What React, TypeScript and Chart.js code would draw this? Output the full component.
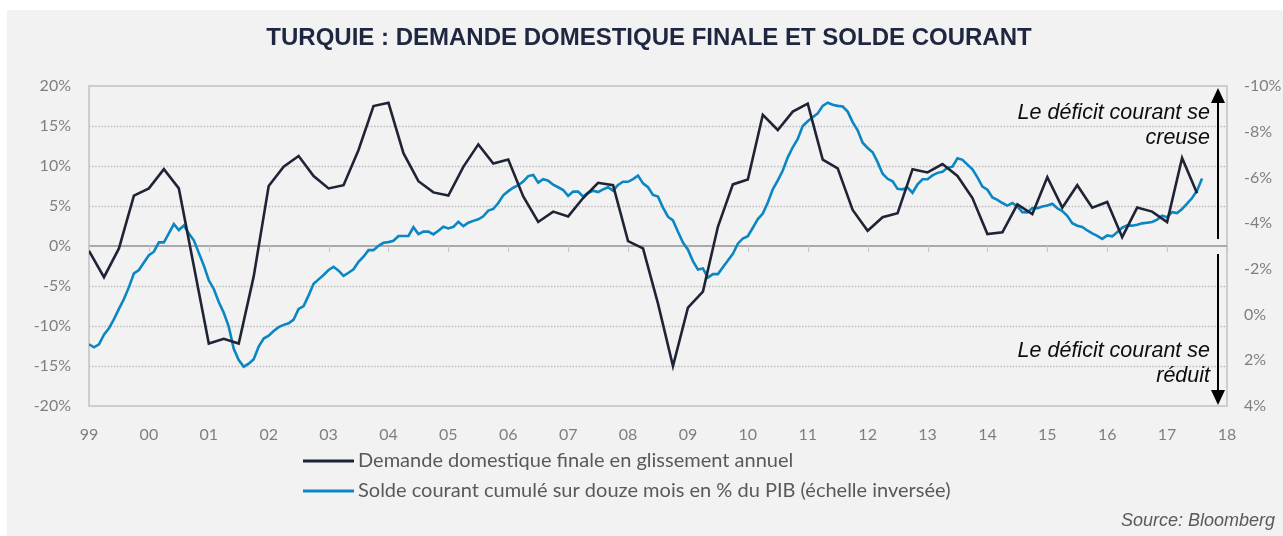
import { useEffect, useRef } from 'react';
import { Chart, registerables } from 'chart.js';

Chart.register(...registerables);

const TITLE = 'TURQUIE : DEMANDE DOMESTIQUE FINALE ET SOLDE COURANT';
const LEGEND_DEMANDE = 'Demande domestique finale en glissement annuel';
const LEGEND_SOLDE = 'Solde courant cumulé sur douze mois en % du PIB (échelle inversée)';
const SOURCE = 'Source: Bloomberg';
const NOTE_UP = ['Le déficit courant se', 'creuse'];
const NOTE_DOWN = ['Le déficit courant se', 'réduit'];

const yearTicks = ['99', '00', '01', '02', '03', '04', '05', '06', '07', '08', '09', '10', '11', '12', '13', '14', '15', '16', '17', '18'];
const firstYear = 1999;
const lastYear = 2018;

// Demande domestique finale, % a/a, trimestriel à partir de 1999 T1
const demande = [
  -0.6, -3.9, -0.3, 6.3,
  7.2, 9.6, 7.2, -2.5,
  -12.2, -11.6, -12.2, -3.8,
  7.5, 9.9, 11.25, 8.75,
  7.2, 7.6, 12.0, 17.5,
  17.9, 11.6, 8.1, 6.7,
  6.3, 9.9, 12.7, 10.3,
  10.8, 6.2, 3.0, 4.3,
  3.7, 6.0, 7.9, 7.6,
  0.6, -0.3, -7.2, -15.0,
  -7.7, -5.7, 2.4, 7.7,
  8.3, 16.4, 14.5, 16.8,
  17.8, 10.8, 9.7, 4.5,
  1.9, 3.6, 4.1, 9.6,
  9.2, 10.25, 8.75, 6.0,
  1.5, 1.7, 5.2, 4.0,
  8.6, 4.8, 7.6, 4.8,
  5.5, 1.1, 4.8, 4.3,
  3.0, 11.0, 6.6,
];

// Solde courant cumulé 12 mois, % du PIB, mensuel à partir de janvier 1999
const solde = [
  1.30, 1.43, 1.30, 0.88, 0.60, 0.20, -0.25, -0.68, -1.20, -1.80, -1.95, -2.28,
  -2.60, -2.75, -3.16, -3.16, -3.55, -3.96, -3.70, -3.90, -3.55, -3.25, -2.70, -2.15,
  -1.50, -1.12, -0.55, -0.08, 0.53, 1.50, 1.99, 2.28, 2.15, 1.95, 1.40, 1.05,
  0.92, 0.72, 0.55, 0.45, 0.38, 0.22, -0.25, -0.37, -0.84, -1.35, -1.54, -1.73,
  -1.95, -2.09, -1.92, -1.69, -1.83, -1.98, -2.31, -2.53, -2.82, -2.82, -3.01, -3.14,
  -3.17, -3.23, -3.44, -3.44, -3.44, -3.82, -3.52, -3.63, -3.63, -3.51, -3.67, -3.84,
  -3.77, -3.84, -4.06, -3.87, -4.02, -4.10, -4.17, -4.30, -4.55, -4.62, -4.88, -5.22,
  -5.40, -5.55, -5.66, -5.82, -6.06, -6.11, -5.77, -5.92, -5.86, -5.68, -5.57, -5.45,
  -5.19, -5.38, -5.38, -5.16, -5.33, -5.42, -5.36, -5.48, -5.57, -5.42, -5.67, -5.81,
  -5.81, -5.93, -6.08, -5.74, -5.57, -5.23, -5.16, -4.68, -4.28, -4.12, -3.62, -3.15,
  -2.84, -2.34, -1.97, -2.02, -1.62, -1.77, -1.77, -2.07, -2.37, -2.66, -3.10, -3.33,
  -3.43, -3.80, -4.18, -4.42, -4.90, -5.48, -5.87, -6.30, -6.88, -7.32, -7.68, -8.25,
  -8.46, -8.64, -8.80, -9.13, -9.27, -9.18, -9.13, -9.10, -8.88, -8.42, -8.06, -7.52,
  -7.29, -7.10, -6.67, -6.16, -5.94, -5.83, -5.50, -5.48, -5.56, -5.33, -5.70, -5.92,
  -5.92, -6.09, -6.20, -6.25, -6.42, -6.47, -6.84, -6.77, -6.56, -6.35, -6.00, -5.60,
  -5.46, -5.12, -5.02, -4.88, -4.77, -4.88, -4.73, -4.48, -4.47, -4.66, -4.65, -4.73,
  -4.77, -4.85, -4.65, -4.53, -4.32, -4.00, -3.89, -3.83, -3.68, -3.55, -3.44, -3.31,
  -3.46, -3.42, -3.60, -3.80, -3.90, -3.89, -3.93, -3.99, -4.02, -4.05, -4.15, -4.33,
  -4.26, -4.48, -4.44, -4.62, -4.85, -5.10, -5.42, -5.95,
];

const leftTicksMin = -20;
const leftTicksMax = 20;
const leftStep = 5;
const rightTicksMin = -10;
const rightTicksMax = 4;
const rightStep = 2;

const COLOR_DEMANDE = '#1f2336';
const COLOR_SOLDE = '#0a87c2';
const TICK_COLOR = '#7f7f7f';
const TICK_FONT = 'Lato';

const customPlugin = {
  id: 'customDecor',
  beforeDraw(chart: any) {
    const { ctx, width, height } = chart;
    ctx.save();
    ctx.fillStyle = '#ffffff';
    ctx.fillRect(0, 0, width, height);
    ctx.fillStyle = '#f2f2f2';
    ctx.fillRect(7, 10, width - 7, height - 10);
    ctx.font = 'bold 24px "Liberation Sans", Arial, sans-serif';
    ctx.fillStyle = '#1f2640';
    ctx.textAlign = 'center';
    ctx.textBaseline = 'middle';
    ctx.fillText(TITLE, 649, 38);
    ctx.restore();
  },
  beforeDatasetsDraw(chart: any) {
    const { ctx, chartArea: a, scales } = chart;
    const y = scales.y;
    const x = scales.x;
    ctx.save();
    // dotted grid
    ctx.strokeStyle = '#bdbdbd';
    ctx.lineWidth = 1.4;
    ctx.setLineDash([1.5, 1.6]);
    y.ticks.forEach((t: any) => {
      if (t.value === 0 || t.value === leftTicksMin || t.value === leftTicksMax) return;
      const py = Math.round(y.getPixelForValue(t.value)) + 0.5;
      ctx.beginPath();
      ctx.moveTo(a.left, py);
      ctx.lineTo(a.right, py);
      ctx.stroke();
    });
    ctx.setLineDash([]);
    // frame
    ctx.strokeStyle = '#c4c4c4';
    ctx.lineWidth = 1.6;
    ctx.strokeRect(a.left, a.top, a.right - a.left, a.bottom - a.top);
    // zero line
    const y0 = y.getPixelForValue(0);
    ctx.strokeStyle = '#a9a9a9';
    ctx.lineWidth = 2;
    ctx.beginPath();
    ctx.moveTo(a.left, y0);
    ctx.lineTo(a.right, y0);
    ctx.stroke();
    // tick marks on zero line
    ctx.strokeStyle = '#c8c8c8';
    ctx.lineWidth = 1.2;
    x.ticks.forEach((t: any) => {
      const px = Math.round(x.getPixelForValue(t.value)) + 0.5;
      ctx.beginPath();
      ctx.moveTo(px, y0);
      ctx.lineTo(px, y0 + 6);
      ctx.stroke();
    });
    ctx.restore();
  },
  afterDraw(chart: any) {
    const { ctx, chartArea: a, scales } = chart;
    const y0 = scales.y.getPixelForValue(0);
    ctx.save();
    // arrows
    const ax = a.right - 9;
    const drawArrow = (tailY: number, tipY: number) => {
      const dir = tipY < tailY ? -1 : 1;
      ctx.strokeStyle = '#000';
      ctx.fillStyle = '#000';
      ctx.lineWidth = 2;
      ctx.beginPath();
      ctx.moveTo(ax, tailY);
      ctx.lineTo(ax, tipY - dir * 12);
      ctx.stroke();
      ctx.beginPath();
      ctx.moveTo(ax, tipY);
      ctx.lineTo(ax - 7, tipY - dir * 15);
      ctx.lineTo(ax + 7, tipY - dir * 15);
      ctx.closePath();
      ctx.fill();
    };
    drawArrow(y0 - 7, a.top + 2);
    drawArrow(y0 + 8, a.bottom - 1);
    // notes
    ctx.font = 'italic 21.5px "Liberation Sans", Arial, sans-serif';
    ctx.fillStyle = '#0d0d0d';
    ctx.textAlign = 'right';
    ctx.textBaseline = 'middle';
    const tx = a.right - 17;
    ctx.fillText(NOTE_UP[0], tx, 113);
    ctx.fillText(NOTE_UP[1], tx, 138);
    ctx.fillText(NOTE_DOWN[0], tx, 351);
    ctx.fillText(NOTE_DOWN[1], tx, 376);
    // legend
    const items = [
      { label: LEGEND_DEMANDE, color: COLOR_DEMANDE, y: 461 },
      { label: LEGEND_SOLDE, color: COLOR_SOLDE, y: 491 },
    ];
    ctx.font = '20px Lato, "Open Sans", sans-serif';
    ctx.textAlign = 'left';
    items.forEach((it) => {
      ctx.strokeStyle = it.color;
      ctx.lineWidth = 3;
      ctx.beginPath();
      ctx.moveTo(303, it.y);
      ctx.lineTo(354, it.y);
      ctx.stroke();
      ctx.fillStyle = '#595959';
      ctx.fillText(it.label, 358, it.y);
    });
    // source
    ctx.font = 'italic 18px "Liberation Sans", Arial, sans-serif';
    ctx.fillStyle = '#595959';
    ctx.textAlign = 'right';
    ctx.fillText(SOURCE, 1275, 521);
    ctx.restore();
  },
};

export default function App() {
  const canvasRef = useRef<HTMLCanvasElement | null>(null);

  useEffect(() => {
    let chart: Chart | null = null;
    let cancelled = false;
    const ready = Promise.all([
      document.fonts.load('16px Lato'),
      document.fonts.load('20px Lato'),
      document.fonts.load('bold 24px "Liberation Sans"'),
      document.fonts.load('italic 21px "Liberation Sans"'),
    ]).catch(() => undefined);

    ready.then(() => {
      if (cancelled || !canvasRef.current) return;
      const demandePts = demande.map((v, i) => ({ x: firstYear + i / 4, y: v }));
      const soldePts = solde.map((v, i) => ({ x: firstYear + i / 12, y: v }));

      chart = new Chart(canvasRef.current, {
        type: 'line',
        data: {
          datasets: [
            {
              label: LEGEND_DEMANDE,
              data: demandePts,
              yAxisID: 'y',
              borderColor: COLOR_DEMANDE,
              borderWidth: 2.6,
              pointRadius: 0,
              tension: 0,
              fill: false,
            },
            {
              label: LEGEND_SOLDE,
              data: soldePts,
              yAxisID: 'y2',
              borderColor: COLOR_SOLDE,
              borderWidth: 2.6,
              pointRadius: 0,
              tension: 0,
              fill: false,
            },
          ],
        },
        options: {
          responsive: false,
          animation: false,
          devicePixelRatio: 1,
          layout: { padding: { top: 86, left: 0, right: 0, bottom: 0 } },
          plugins: {
            legend: { display: false },
            tooltip: { enabled: false },
            title: { display: false },
          },
          scales: {
            x: {
              type: 'linear',
              min: firstYear,
              max: lastYear,
              grid: { display: false, drawTicks: false },
              border: { display: false },
              ticks: {
                stepSize: 1,
                padding: 19,
                color: TICK_COLOR,
                font: { family: TICK_FONT, size: 16 },
                maxRotation: 0,
                autoSkip: false,
                callback: (_v: any, i: number) => yearTicks[i],
              },
              afterFit: (s: any) => {
                s.height = 130;
              },
            },
            y: {
              position: 'left',
              min: leftTicksMin,
              max: leftTicksMax,
              grid: { display: false, drawTicks: false },
              border: { display: false },
              ticks: {
                stepSize: leftStep,
                padding: 18,
                color: TICK_COLOR,
                font: { family: TICK_FONT, size: 16 },
                callback: (v: any) => `${v}%`,
              },
              afterFit: (s: any) => {
                s.width = 89;
              },
            },
            y2: {
              position: 'right',
              reverse: true,
              min: rightTicksMin,
              max: rightTicksMax,
              grid: { display: false, drawTicks: false },
              border: { display: false },
              ticks: {
                stepSize: rightStep,
                padding: 17,
                color: TICK_COLOR,
                font: { family: TICK_FONT, size: 16 },
                callback: (v: any) => `${v}%`,
              },
              afterFit: (s: any) => {
                s.width = 56;
              },
            },
          },
        },
        plugins: [customPlugin],
      });
    });

    return () => {
      cancelled = true;
      if (chart) chart.destroy();
    };
  }, []);

  return (
    <div style={{ position: 'absolute', left: 0, top: 0, width: 1283, height: 536, background: '#fff' }}>
      <canvas ref={canvasRef} width={1283} height={536} style={{ display: 'block', width: 1283, height: 536 }} />
    </div>
  );
}
